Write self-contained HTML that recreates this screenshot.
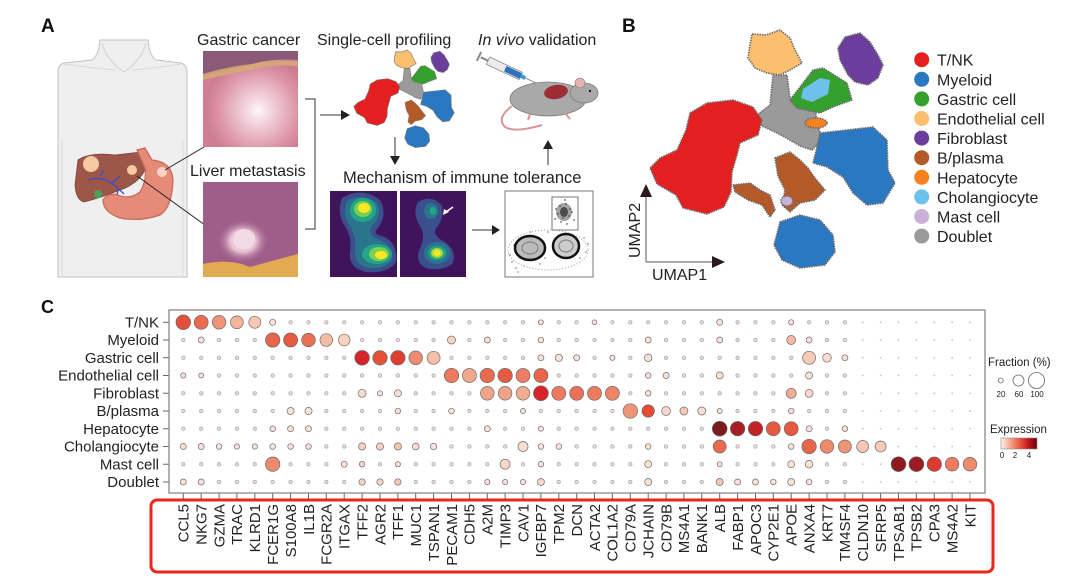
<!DOCTYPE html>
<html><head><meta charset="utf-8"><style>
html,body{margin:0;padding:0;background:#fff;}
svg{display:block;font-family:"Liberation Sans",Arial,sans-serif;}
</style></head><body>
<svg width="1080" height="580" viewBox="0 0 1080 580" xmlns="http://www.w3.org/2000/svg">
<defs>
<radialGradient id="gc" cx="0.58" cy="0.62" r="0.55"><stop offset="0" stop-color="#fdf6f8"/><stop offset="0.3" stop-color="#f1cdd9"/><stop offset="0.75" stop-color="#dc95a6"/><stop offset="1" stop-color="#cf7e92"/></radialGradient>
<radialGradient id="lm" cx="0.5" cy="0.5" r="0.5"><stop offset="0" stop-color="#f8e6ee"/><stop offset="0.5" stop-color="#e9bfd2"/><stop offset="1" stop-color="#a0608c" stop-opacity="0"/></radialGradient>
<linearGradient id="expr" x1="0" x2="1" y1="0" y2="0"><stop offset="0" stop-color="#fff5f0"/><stop offset="0.45" stop-color="#ef6a4c"/><stop offset="0.75" stop-color="#cb181d"/><stop offset="1" stop-color="#67000d"/></linearGradient>
<pattern id="pl" patternUnits="userSpaceOnUse" x="174.36" y="313.43" width="17.88" height="17.74"><circle cx="8.94" cy="8.87" r="1.7" fill="#efdcd5" stroke="#8a8a8a" stroke-width="0.5"/></pattern>
<pattern id="pr" patternUnits="userSpaceOnUse" x="174.36" y="313.43" width="17.88" height="17.74"><circle cx="8.94" cy="8.87" r="0.9" fill="#bdbdbd"/></pattern>
</defs>

<!-- ===== Panel A ===== -->
<text x="41" y="32" font-size="19" font-weight="bold" fill="#111">A</text>
<!-- body -->
<path d="M100,40 L148,40 Q149,55 156,60 L181,63 Q187,65 187,72 L187,277 L58,277 L58,72 Q58,65 64,63 L92,60 Q99,55 100,40 Z" fill="#efefef" stroke="#c2c2c2" stroke-width="1"/>
<path d="M102,44 Q108,62 124,72 Q140,62 146,44" fill="none" stroke="#cfcfcf" stroke-width="1"/>
<path d="M64,64 Q92,68 116,70 M132,70 Q156,68 181,64" fill="none" stroke="#d2d2d2" stroke-width="0.8"/>
<path d="M62,140 L62,277 M183,140 L183,277" fill="none" stroke="#d6d6d6" stroke-width="0.8"/>
<!-- liver -->
<path d="M78,160 Q90,152 115,155 L141,152 Q148,158 145,170 Q138,184 120,190 Q100,198 84,202 Q76,200 75,185 Z" fill="#9c5749" stroke="#7e4238" stroke-width="0.8"/>
<circle cx="98" cy="194" r="4" fill="#4aa15c"/>
<circle cx="91" cy="164" r="8" fill="#f6c9a3"/>
<circle cx="132" cy="170" r="5" fill="#f6c9a3"/>
<path d="M88,180 Q100,176 110,182 Q118,188 124,194 M100,176 L104,170 M112,183 L120,176 M118,190 L116,200" fill="none" stroke="#3a4ccc" stroke-width="1.3"/>
<path d="M115,203 L115,215" stroke="#3a4ccc" stroke-width="2"/>
<!-- stomach -->
<path d="M137,150 L145,148 L152,160 Q172,162 173,180 Q172,208 160,215 Q140,222 120,218 Q103,212 103,200 Q108,192 118,195 Q130,200 140,192 Q147,180 145,168 Z" fill="#e58b77" stroke="#c4675b" stroke-width="1.2"/>
<circle cx="162" cy="172" r="5" fill="#f8d3c8"/>
<!-- arrows -->
<line x1="165" y1="170" x2="226" y2="134" stroke="#222" stroke-width="1"/>
<polygon points="232,130 221,131 226,139" fill="#222"/>
<line x1="137" y1="176" x2="216" y2="233" stroke="#222" stroke-width="1"/>
<polygon points="223,238 211,235 217,228" fill="#222"/>
<!-- photos -->
<text x="197" y="45" font-size="16" fill="#222">Gastric cancer</text>
<rect x="203" y="51" width="95" height="96" fill="url(#gc)"/>
<path d="M203,51 L298,51 L298,60 Q270,58 250,65 Q225,70 203,76 Z" fill="#8a5a78"/>
<path d="M203,74 Q230,66 252,64 Q275,58 298,62 L298,66 Q270,64 250,70 Q228,74 203,80 Z" fill="#d6ab74" opacity="0.85"/>
<text x="190" y="176" font-size="16" fill="#222">Liver metastasis</text>
<rect x="203" y="182" width="95" height="95" fill="#9e5e89"/>
<ellipse cx="243" cy="241" rx="26" ry="22" fill="url(#lm)"/>
<ellipse cx="244" cy="239" rx="11" ry="10" fill="#f3dce6" opacity="0.9"/>
<path d="M203,264 Q230,258 250,267 Q275,260 298,254 L298,277 L203,277 Z" fill="#e2ab52"/>
<!-- bracket -->
<path d="M305,99 L315,99 L315,229 L305,229" fill="none" stroke="#333" stroke-width="1"/>
<line x1="320" y1="115" x2="342" y2="115" stroke="#333" stroke-width="1"/>
<polygon points="350,115 341,110 341,120" fill="#222"/>
<text x="317" y="45" font-size="16" fill="#222">Single-cell profiling</text>
<!-- mini umap -->
<g transform="translate(353,50) scale(0.41) translate(-648,-30)" stroke="#777" stroke-width="1.5">
<path d="M773,75 L787,75 L790,98 L805,100 L815,110 L818,125 L822,140 L812,150 L800,146 L790,140 L775,132 L762,126 L757,115 L770,105 Z" fill="#9a9a9a"/>
<path d="M752,34 L766,35 L780,30 L790,38 L795,50 L802,63 L790,70 L780,75 L767,73 L755,68 L748,58 L750,45 Z" fill="#fcbf70"/>
<path d="M845,37 L860,33 L870,42 L878,55 L883,65 L878,78 L868,85 L855,82 L848,75 L840,60 L838,48 Z" fill="#6b3d9c"/>
<path d="M800,87 L813,70 L823,68 L847,83 L852,100 L833,107 L820,113 L797,108 L790,100 Z" fill="#35a02e"/>
<path d="M690,113 L707,103 L733,100 L753,107 L762,120 L758,135 L740,143 L737,155 L732,172 L731,192 L724,207 L707,214 L683,208 L676,195 L657,184 L650,168 L660,158 L677,150 L686,130 Z" fill="#e3201f"/>
<path d="M820,133 L847,130 L873,127 L887,140 L888,170 L895,183 L883,203 L867,205 L853,193 L843,177 L827,167 L813,163 L817,147 Z" fill="#2a78c2"/>
<path d="M780,222 L800,215 L820,220 L833,235 L835,252 L825,265 L800,268 L782,260 L774,245 Z" fill="#2a78c2"/>
<path d="M775,158 L790,152 L800,160 L808,168 L815,178 L825,190 L815,200 L800,203 L790,212 L782,205 L785,190 L778,176 Z" fill="#b35a28"/>
</g>
<line x1="395" y1="137" x2="395" y2="157" stroke="#333" stroke-width="1"/>
<polygon points="395,165 390,156 400,156" fill="#222"/>
<text x="478" y="45" font-size="16" fill="#222"><tspan font-style="italic">In vivo</tspan> validation</text>
<!-- syringe -->
<g transform="rotate(25 508 70)">
<rect x="486" y="66" width="36" height="8" fill="#ececec" stroke="#888" stroke-width="0.8"/>
<rect x="505" y="67" width="17" height="6" fill="#2f6fc0"/>
<line x1="478" y1="70" x2="486" y2="70" stroke="#888" stroke-width="2"/>
<line x1="476" y1="65" x2="476" y2="75" stroke="#888" stroke-width="2"/>
<rect x="522" y="68" width="5" height="4" fill="#3a9ec8"/>
<line x1="527" y1="70" x2="540" y2="70" stroke="#777" stroke-width="0.8"/>
</g>
<!-- mouse -->
<path d="M512,106 Q496,118 505,127 Q515,133 542,125" fill="none" stroke="#d89595" stroke-width="2"/>
<ellipse cx="548" cy="99" rx="38" ry="17" fill="#a9a9a9" stroke="#7a7a7a" stroke-width="0.8"/>
<ellipse cx="584" cy="93" rx="14" ry="10" fill="#a9a9a9" stroke="#7a7a7a" stroke-width="0.8"/>
<circle cx="580" cy="83" r="5" fill="#e6b2b2" stroke="#7a7a7a" stroke-width="0.6"/>
<circle cx="590" cy="91" r="1.2" fill="#222"/>
<ellipse cx="556" cy="92" rx="12" ry="7" fill="#9c2c36" transform="rotate(-10 556 92)"/>
<path d="M530,114 L528,120 M565,113 L570,119" stroke="#d89595" stroke-width="2"/>
<line x1="548" y1="165" x2="548" y2="148" stroke="#333" stroke-width="1"/>
<polygon points="548,140 543,149 553,149" fill="#222"/>
<text x="343" y="183" font-size="16.5" fill="#222">Mechanism of immune tolerance</text>
<!-- density plots -->
<rect x="330" y="191" width="67" height="86" fill="#40145c"/>
<path d="M342,198 Q362,186 380,200 Q388,215 378,228 Q372,234 382,236 Q398,242 396,262 Q388,274 366,272 Q348,268 350,252 Q352,238 346,228 Q336,214 342,198 Z" fill="#3a4f8c"/>
<path d="M347,201 Q362,192 377,203 Q383,215 372,226 Q366,236 380,240 Q394,246 392,260 Q384,270 368,268 Q354,264 355,252 Q357,238 350,226 Q342,214 347,201 Z" fill="#2b748e"/>
<ellipse cx="363" cy="210" rx="13" ry="12" fill="#22a686"/>
<ellipse cx="377" cy="254" rx="15" ry="10" fill="#22a686"/>
<ellipse cx="363" cy="209" rx="9" ry="8" fill="#7ad151"/>
<ellipse cx="379" cy="254" rx="10" ry="7" fill="#7ad151"/>
<ellipse cx="364" cy="208" rx="6" ry="5" fill="#fde725"/>
<ellipse cx="381" cy="255" rx="6" ry="4" fill="#fde725"/>
<rect x="400" y="191" width="66" height="86" fill="#40145c"/>
<path d="M418,202 Q432,194 442,206 Q444,220 436,228 Q432,236 445,242 Q458,252 452,264 Q440,272 426,268 Q414,262 420,248 Q426,236 420,226 Q412,214 418,202 Z" fill="#3a4f8c"/>
<ellipse cx="431" cy="211" rx="7" ry="8" fill="#2b748e"/>
<ellipse cx="433" cy="211" rx="3.5" ry="4" fill="#22a686"/>
<ellipse cx="437" cy="253" rx="13" ry="11" fill="#2b748e"/>
<ellipse cx="437" cy="253" rx="9" ry="7" fill="#22a686"/>
<ellipse cx="437" cy="253" rx="6" ry="5" fill="#a5db36"/>
<ellipse cx="437" cy="253" rx="3.5" ry="3" fill="#fde725"/>
<line x1="453" y1="207" x2="446" y2="212" stroke="#fff" stroke-width="1.5"/>
<polygon points="443,215 444,209 449,212" fill="#fff"/>
<line x1="472" y1="230" x2="493" y2="230" stroke="#333" stroke-width="1"/>
<polygon points="500,230 492,225 492,235" fill="#222"/>
<!-- flow plot -->
<rect x="505" y="191" width="88" height="86" fill="#fff" stroke="#777" stroke-width="1"/>
<rect x="552" y="197" width="26" height="33" fill="none" stroke="#555" stroke-width="0.8"/>
<g fill="#222">
<circle cx="560" cy="206" r="0.7"/><circle cx="566" cy="204" r="0.7"/><circle cx="570" cy="209" r="0.7"/><circle cx="558" cy="214" r="0.7"/><circle cx="563" cy="218" r="0.7"/><circle cx="569" cy="216" r="0.7"/><circle cx="572" cy="212" r="0.7"/><circle cx="556" cy="209" r="0.7"/><circle cx="561" cy="222" r="0.7"/><circle cx="567" cy="224" r="0.7"/><circle cx="574" cy="220" r="0.7"/><circle cx="555" cy="219" r="0.7"/><circle cx="565" cy="200" r="0.7"/>
<circle cx="512" cy="262" r="0.6"/><circle cx="516" cy="268" r="0.6"/><circle cx="520" cy="258" r="0.6"/><circle cx="510" cy="255" r="0.6"/><circle cx="518" cy="272" r="0.6"/><circle cx="524" cy="266" r="0.6"/><circle cx="540" cy="264" r="0.6"/><circle cx="548" cy="232" r="0.6"/><circle cx="584" cy="238" r="0.6"/><circle cx="586" cy="252" r="0.6"/><circle cx="580" cy="258" r="0.6"/><circle cx="545" cy="258" r="0.6"/><circle cx="530" cy="232" r="0.6"/><circle cx="514" cy="245" r="0.6"/><circle cx="588" cy="244" r="0.6"/>
</g>
<ellipse cx="564" cy="212" rx="8" ry="9" fill="#333" opacity="0.45"/>
<ellipse cx="564" cy="212" rx="4" ry="5" fill="#111" opacity="0.6"/>
<ellipse cx="530" cy="248" rx="15" ry="12" fill="#bbb" stroke="#111" stroke-width="2.5"/>
<ellipse cx="566" cy="246" rx="13" ry="12" fill="#ccc" stroke="#111" stroke-width="2.5"/>
<ellipse cx="530" cy="248" rx="8" ry="6" fill="none" stroke="#777" stroke-width="1"/>
<ellipse cx="566" cy="246" rx="7" ry="6" fill="none" stroke="#777" stroke-width="1"/>
<ellipse cx="548" cy="250" rx="40" ry="20" fill="none" stroke="#999" stroke-width="1" stroke-dasharray="1 2"/>

<!-- ===== Panel B ===== -->
<text x="622" y="32" font-size="19" font-weight="bold" fill="#111">B</text>
<g stroke="#6a6a6a" stroke-width="1.6" stroke-linejoin="round" stroke-dasharray="1.5 1">
<path d="M773,75 L787,75 L790,98 L805,100 L815,110 L818,125 L822,140 L812,150 L800,146 L790,140 L775,132 L762,126 L757,115 L770,105 Z" fill="#9a9a9a"/>
<path d="M752,34 L766,35 L780,30 L790,38 L795,50 L802,63 L790,70 L780,75 L767,73 L755,68 L748,58 L750,45 Z" fill="#fcbf70"/>
<path d="M845,37 L860,33 L870,42 L878,55 L883,65 L878,78 L868,85 L855,82 L848,75 L840,60 L838,48 Z" fill="#6b3d9c"/>
<path d="M800,87 L813,70 L823,68 L847,83 L852,100 L833,107 L820,113 L797,108 L790,100 Z" fill="#35a02e"/>
<path d="M803,89 L820,78 L830,80 L828,94 L812,102 L801,98 Z" fill="#6ec1ea" stroke="none"/>
<ellipse cx="816" cy="123" rx="11" ry="5" fill="#f5821f"/>
<path d="M690,113 L707,103 L733,100 L753,107 L762,120 L758,135 L740,143 L737,155 L732,172 L731,192 L724,207 L707,214 L683,208 L676,195 L657,184 L650,168 L660,158 L677,150 L686,130 Z" fill="#e3201f"/>
<path d="M820,133 L847,130 L873,127 L887,140 L888,170 L895,183 L883,203 L867,205 L853,193 L843,177 L827,167 L813,163 L817,147 Z" fill="#2a78c2"/>
<path d="M780,222 L800,215 L820,220 L833,235 L835,252 L825,265 L800,268 L782,260 L774,245 Z" fill="#2a78c2"/>
<path d="M775,158 L790,152 L800,160 L808,168 L815,178 L825,190 L815,200 L800,203 L790,212 L782,205 L785,190 L778,176 Z" fill="#b35a28"/>
<path d="M733,185 L750,183 L760,190 L770,195 L775,210 L770,217 L762,205 L748,200 L735,192 Z" fill="#b35a28"/>
<ellipse cx="787" cy="201" rx="6" ry="5" fill="#cab2d6"/>
</g>
<!-- axes -->
<line x1="646" y1="262" x2="646" y2="195" stroke="#555" stroke-width="1"/>
<polygon points="646,184 640,197 652,197" fill="#2a1a1a"/>
<line x1="646" y1="262" x2="714" y2="262" stroke="#555" stroke-width="1"/>
<polygon points="725,262 712,256 712,268" fill="#2a1a1a"/>
<text x="652" y="280" font-size="16" fill="#222">UMAP1</text>
<text transform="translate(640,258) rotate(-90)" font-size="16" fill="#222">UMAP2</text>
<!-- legend B -->
<g font-size="16" fill="#222">
<circle cx="921.7" cy="59.7" r="7.5" fill="#e3201f"/><text x="937" y="65.7">T/NK</text>
<circle cx="921.7" cy="79.3" r="7.5" fill="#2a78c2"/><text x="937" y="85.3">Myeloid</text>
<circle cx="921.7" cy="98.9" r="7.5" fill="#35a02e"/><text x="937" y="104.9">Gastric cell</text>
<circle cx="921.7" cy="118.5" r="7.5" fill="#fcbf70"/><text x="937" y="124.5">Endothelial cell</text>
<circle cx="921.7" cy="138.1" r="7.5" fill="#6b3d9c"/><text x="937" y="144.1">Fibroblast</text>
<circle cx="921.7" cy="157.7" r="7.5" fill="#b35a28"/><text x="937" y="163.7">B/plasma</text>
<circle cx="921.7" cy="177.3" r="7.5" fill="#f5821f"/><text x="937" y="183.3">Hepatocyte</text>
<circle cx="921.7" cy="196.9" r="7.5" fill="#6ec1ea"/><text x="937" y="202.9">Cholangiocyte</text>
<circle cx="921.7" cy="216.5" r="7.5" fill="#cab2d6"/><text x="937" y="222.5">Mast cell</text>
<circle cx="921.7" cy="236.1" r="7.5" fill="#9a9a9a"/><text x="937" y="242.1">Doublet</text>
</g>

<!-- ===== Panel C ===== -->
<text x="41" y="313" font-size="18" font-weight="bold" fill="#111">C</text>
<g font-size="15" fill="#222" text-anchor="end">
<text x="159" y="327.5">T/NK</text>
<text x="159" y="345.2">Myeloid</text>
<text x="159" y="363">Gastric cell</text>
<text x="159" y="380.7">Endothelial cell</text>
<text x="159" y="398.5">Fibroblast</text>
<text x="159" y="416.2">B/plasma</text>
<text x="159" y="433.9">Hepatocyte</text>
<text x="159" y="451.7">Cholangiocyte</text>
<text x="159" y="469.4">Mast cell</text>
<text x="159" y="487.2">Doublet</text>
</g>
<g stroke="#666" stroke-width="1">
<path d="M163,322.3h6M163,340h6M163,357.8h6M163,375.5h6M163,393.3h6M163,411h6M163,428.7h6M163,446.5h6M163,464.2h6M163,482h6"/>
<path d="M183.3,493v6M201.2,493v6M219.1,493v6M236.9,493v6M254.8,493v6M272.7,493v6M290.6,493v6M308.5,493v6M326.3,493v6M344.2,493v6M362.1,493v6M380,493v6M397.9,493v6M415.7,493v6M433.6,493v6M451.5,493v6M469.4,493v6M487.3,493v6M505.1,493v6M523,493v6M540.9,493v6M558.8,493v6M576.7,493v6M594.5,493v6M612.4,493v6M630.3,493v6M648.2,493v6M666.1,493v6M683.9,493v6M701.8,493v6M719.7,493v6M737.6,493v6M755.5,493v6M773.3,493v6M791.2,493v6M809.1,493v6M827,493v6M844.9,493v6M862.7,493v6M880.6,493v6M898.5,493v6M916.4,493v6M934.3,493v6M952.1,493v6M970,493v6"/>
</g>
<rect x="169" y="310" width="816" height="183" fill="#fff" stroke="#888" stroke-width="1.3"/>
<rect x="174.36" y="313.43" width="679.44" height="177.4" fill="url(#pl)"/>
<rect x="853.8" y="313.43" width="125.16" height="177.4" fill="url(#pr)"/>
<g stroke="#6b6b6b" stroke-width="0.7" fill="#fae2d8">
<!-- row0 T/NK -->
<circle cx="183.3" cy="322.3" r="7.3" fill="#e4503a"/>
<circle cx="201.2" cy="322.3" r="7" fill="#ea6b50"/>
<circle cx="219.1" cy="322.3" r="6.8" fill="#f09478"/>
<circle cx="236.9" cy="322.3" r="6.4" fill="#f5b59d"/>
<circle cx="254.8" cy="322.3" r="6" fill="#f8c7b3"/>
<circle cx="272.7" cy="322.3" r="3" fill="#fbe6dc"/>
<circle cx="540.9" cy="322.3" r="2.5"/>
<circle cx="594.5" cy="322.3" r="2.4"/>
<circle cx="719.7" cy="322.3" r="3"/>
<circle cx="791.2" cy="322.3" r="2.6"/>
<!-- row1 Myeloid -->
<circle cx="201.2" cy="340" r="3"/>
<circle cx="272.7" cy="340" r="7.2" fill="#e8644a"/>
<circle cx="290.6" cy="340" r="7" fill="#e65a42"/>
<circle cx="308.5" cy="340" r="6.8" fill="#ea6e52"/>
<circle cx="326.3" cy="340" r="6.3" fill="#f6bba4"/>
<circle cx="344.2" cy="340" r="5.8" fill="#fad2c2"/>
<circle cx="451.5" cy="340" r="4" fill="#f8d2c2"/>
<circle cx="487.3" cy="340" r="3"/>
<circle cx="540.9" cy="340" r="2.8"/>
<circle cx="648.2" cy="340" r="3"/>
<circle cx="719.7" cy="340" r="3"/>
<circle cx="791.2" cy="340" r="4.5" fill="#f6b8a0"/>
<circle cx="809.1" cy="340" r="3"/>
<!-- row2 Gastric -->
<circle cx="362.1" cy="357.8" r="7.3" fill="#d42429"/>
<circle cx="380" cy="357.8" r="7.2" fill="#e4503a"/>
<circle cx="397.9" cy="357.8" r="7.2" fill="#e03c32"/>
<circle cx="415.7" cy="357.8" r="6.8" fill="#ee8c70"/>
<circle cx="433.6" cy="357.8" r="6.5" fill="#f7bea8"/>
<circle cx="540.9" cy="357.8" r="3"/>
<circle cx="558.8" cy="357.8" r="3.6"/>
<circle cx="576.7" cy="357.8" r="3"/>
<circle cx="612.4" cy="357.8" r="2.6"/>
<circle cx="648.2" cy="357.8" r="3.8"/>
<circle cx="809.1" cy="357.8" r="6.5" fill="#f8cbb8"/>
<circle cx="827" cy="357.8" r="4.3" fill="#fbdcd0"/>
<circle cx="844.9" cy="357.8" r="3"/>
<!-- row3 Endothelial -->
<circle cx="183.3" cy="375.5" r="2.6"/>
<circle cx="201.2" cy="375.5" r="2.5"/>
<circle cx="451.5" cy="375.5" r="7.2" fill="#ec7a5e"/>
<circle cx="469.4" cy="375.5" r="7" fill="#f3a88e"/>
<circle cx="487.3" cy="375.5" r="7.2" fill="#ea6a50"/>
<circle cx="505.1" cy="375.5" r="7.2" fill="#e45a42"/>
<circle cx="523" cy="375.5" r="7" fill="#ec7c62"/>
<circle cx="540.9" cy="375.5" r="7" fill="#e8644a"/>
<circle cx="648.2" cy="375.5" r="2.8"/>
<circle cx="666.1" cy="375.5" r="3"/>
<circle cx="719.7" cy="375.5" r="3.5"/>
<circle cx="809.1" cy="375.5" r="3.5"/>
<!-- row4 Fibroblast -->
<circle cx="362.1" cy="393.3" r="4" fill="#fadcd0"/>
<circle cx="380" cy="393.3" r="2.6"/>
<circle cx="397.9" cy="393.3" r="3.5"/>
<circle cx="487.3" cy="393.3" r="6.8" fill="#f2a48a"/>
<circle cx="505.1" cy="393.3" r="6.8" fill="#f2a28a"/>
<circle cx="523" cy="393.3" r="6.8" fill="#f2ac92"/>
<circle cx="540.9" cy="393.3" r="7.4" fill="#d8232a"/>
<circle cx="558.8" cy="393.3" r="7" fill="#ec7a5e"/>
<circle cx="576.7" cy="393.3" r="7" fill="#ea7058"/>
<circle cx="594.5" cy="393.3" r="7" fill="#ec7a5e"/>
<circle cx="612.4" cy="393.3" r="7" fill="#ee8468"/>
<circle cx="648.2" cy="393.3" r="2.8"/>
<circle cx="791.2" cy="393.3" r="5" fill="#f4ae96"/>
<circle cx="809.1" cy="393.3" r="4" fill="#fbd8cc"/>
<!-- row5 B/plasma -->
<circle cx="290.6" cy="411" r="3.5"/>
<circle cx="308.5" cy="411" r="3.6"/>
<circle cx="397.9" cy="411" r="2.8"/>
<circle cx="451.5" cy="411" r="2.8"/>
<circle cx="523" cy="411" r="2.6"/>
<circle cx="630.3" cy="411" r="7.2" fill="#f09478"/>
<circle cx="648.2" cy="411" r="6.2" fill="#e44a36"/>
<circle cx="666.1" cy="411" r="4.4" fill="#fbd8cc"/>
<circle cx="683.9" cy="411" r="4" fill="#f8c8b4"/>
<circle cx="701.8" cy="411" r="4" fill="#fbdcd0"/>
<circle cx="719.7" cy="411" r="2.5"/>
<circle cx="791.2" cy="411" r="2.8"/>
<!-- row6 Hepatocyte -->
<circle cx="272.7" cy="428.7" r="2.8"/>
<circle cx="290.6" cy="428.7" r="3"/>
<circle cx="308.5" cy="428.7" r="3"/>
<circle cx="487.3" cy="428.7" r="3"/>
<circle cx="540.9" cy="428.7" r="2.5"/>
<circle cx="719.7" cy="428.7" r="7.4" fill="#7a1c1e"/>
<circle cx="737.6" cy="428.7" r="7.2" fill="#a81e26"/>
<circle cx="755.5" cy="428.7" r="7.2" fill="#c42028"/>
<circle cx="773.3" cy="428.7" r="7" fill="#e45a40"/>
<circle cx="791.2" cy="428.7" r="7" fill="#e65840"/>
<circle cx="809.1" cy="428.7" r="3"/>
<circle cx="844.9" cy="428.7" r="2.8"/>
<!-- row7 Cholangiocyte -->
<circle cx="183.3" cy="446.5" r="3"/>
<circle cx="201.2" cy="446.5" r="3"/>
<circle cx="219.1" cy="446.5" r="2.8"/>
<circle cx="236.9" cy="446.5" r="2.6"/>
<circle cx="254.8" cy="446.5" r="2.6"/>
<circle cx="272.7" cy="446.5" r="2.8"/>
<circle cx="290.6" cy="446.5" r="2.8"/>
<circle cx="308.5" cy="446.5" r="2.8"/>
<circle cx="362.1" cy="446.5" r="3.6" fill="#f8cfc0"/>
<circle cx="380" cy="446.5" r="3.6" fill="#f8cfc0"/>
<circle cx="397.9" cy="446.5" r="3.6" fill="#f6c4b0"/>
<circle cx="415.7" cy="446.5" r="3.4" fill="#fbdcd0"/>
<circle cx="433.6" cy="446.5" r="3.2"/>
<circle cx="523" cy="446.5" r="5" fill="#fbdcd0"/>
<circle cx="540.9" cy="446.5" r="2.8"/>
<circle cx="558.8" cy="446.5" r="2.8"/>
<circle cx="648.2" cy="446.5" r="2.8"/>
<circle cx="719.7" cy="446.5" r="6.5" fill="#ea6a50"/>
<circle cx="791.2" cy="446.5" r="2.8"/>
<circle cx="809.1" cy="446.5" r="7.2" fill="#e8644a"/>
<circle cx="827" cy="446.5" r="6.8" fill="#ee8a6e"/>
<circle cx="844.9" cy="446.5" r="6.5" fill="#f09478"/>
<circle cx="862.7" cy="446.5" r="6" fill="#f8c6b2"/>
<circle cx="880.6" cy="446.5" r="5.5" fill="#f8ccb8"/>
<!-- row8 Mast -->
<circle cx="272.7" cy="464.2" r="7.2" fill="#ee8a6e"/>
<circle cx="344.2" cy="464.2" r="3"/>
<circle cx="362.1" cy="464.2" r="2.8" fill="#f8d8cc"/>
<circle cx="397.9" cy="464.2" r="2.6"/>
<circle cx="505.1" cy="464.2" r="5" fill="#fbd6c8"/>
<circle cx="540.9" cy="464.2" r="2.8"/>
<circle cx="648.2" cy="464.2" r="3.5"/>
<circle cx="719.7" cy="464.2" r="2.5"/>
<circle cx="791.2" cy="464.2" r="3.5"/>
<circle cx="809.1" cy="464.2" r="3.8"/>
<circle cx="898.5" cy="464.2" r="7.4" fill="#8c1a1e"/>
<circle cx="916.4" cy="464.2" r="7.4" fill="#9c1c22"/>
<circle cx="934.3" cy="464.2" r="7.2" fill="#dc3a32"/>
<circle cx="952.1" cy="464.2" r="6.8" fill="#ec7c60"/>
<circle cx="970" cy="464.2" r="6.8" fill="#ee8a6e"/>
<!-- row9 Doublet -->
<circle cx="183.3" cy="482" r="3"/>
<circle cx="201.2" cy="482" r="3"/>
<circle cx="362.1" cy="482" r="3.2" fill="#f8d4c4"/>
<circle cx="380" cy="482" r="3.2" fill="#f8d4c4"/>
<circle cx="397.9" cy="482" r="3.2" fill="#f6c8b6"/>
<circle cx="487.3" cy="482" r="2.6"/>
<circle cx="505.1" cy="482" r="2.6"/>
<circle cx="523" cy="482" r="2.6"/>
<circle cx="540.9" cy="482" r="3.5" fill="#f8d8cc"/>
<circle cx="648.2" cy="482" r="3.5"/>
<circle cx="719.7" cy="482" r="3.5" fill="#f6c8b6"/>
<circle cx="737.6" cy="482" r="3"/>
<circle cx="755.5" cy="482" r="3"/>
<circle cx="773.3" cy="482" r="2.8"/>
<circle cx="791.2" cy="482" r="3.5"/>
<circle cx="809.1" cy="482" r="2.8"/>
</g>
<!-- x labels -->
<g font-size="15" fill="#222" text-anchor="end">
<text transform="translate(188.6,504) rotate(-90)">CCL5</text>
<text transform="translate(206.5,504) rotate(-90)">NKG7</text>
<text transform="translate(224.4,504) rotate(-90)">GZMA</text>
<text transform="translate(242.2,504) rotate(-90)">TRAC</text>
<text transform="translate(260.1,504) rotate(-90)">KLRD1</text>
<text transform="translate(278,504) rotate(-90)">FCER1G</text>
<text transform="translate(295.9,504) rotate(-90)">S100A8</text>
<text transform="translate(313.8,504) rotate(-90)">IL1B</text>
<text transform="translate(331.6,504) rotate(-90)">FCGR2A</text>
<text transform="translate(349.5,504) rotate(-90)">ITGAX</text>
<text transform="translate(367.4,504) rotate(-90)">TFF2</text>
<text transform="translate(385.3,504) rotate(-90)">AGR2</text>
<text transform="translate(403.2,504) rotate(-90)">TFF1</text>
<text transform="translate(421,504) rotate(-90)">MUC1</text>
<text transform="translate(438.9,504) rotate(-90)">TSPAN1</text>
<text transform="translate(456.8,504) rotate(-90)">PECAM1</text>
<text transform="translate(474.7,504) rotate(-90)">CDH5</text>
<text transform="translate(492.6,504) rotate(-90)">A2M</text>
<text transform="translate(510.4,504) rotate(-90)">TIMP3</text>
<text transform="translate(528.3,504) rotate(-90)">CAV1</text>
<text transform="translate(546.2,504) rotate(-90)">IGFBP7</text>
<text transform="translate(564.1,504) rotate(-90)">TPM2</text>
<text transform="translate(582,504) rotate(-90)">DCN</text>
<text transform="translate(599.8,504) rotate(-90)">ACTA2</text>
<text transform="translate(617.7,504) rotate(-90)">COL1A2</text>
<text transform="translate(635.6,504) rotate(-90)">CD79A</text>
<text transform="translate(653.5,504) rotate(-90)">JCHAIN</text>
<text transform="translate(671.4,504) rotate(-90)">CD79B</text>
<text transform="translate(689.2,504) rotate(-90)">MS4A1</text>
<text transform="translate(707.1,504) rotate(-90)">BANK1</text>
<text transform="translate(725,504) rotate(-90)">ALB</text>
<text transform="translate(742.9,504) rotate(-90)">FABP1</text>
<text transform="translate(760.8,504) rotate(-90)">APOC3</text>
<text transform="translate(778.6,504) rotate(-90)">CYP2E1</text>
<text transform="translate(796.5,504) rotate(-90)">APOE</text>
<text transform="translate(814.4,504) rotate(-90)">ANXA4</text>
<text transform="translate(832.3,504) rotate(-90)">KRT7</text>
<text transform="translate(850.2,504) rotate(-90)">TM4SF4</text>
<text transform="translate(868,504) rotate(-90)">CLDN10</text>
<text transform="translate(885.9,504) rotate(-90)">SFRP5</text>
<text transform="translate(903.8,504) rotate(-90)">TPSAB1</text>
<text transform="translate(921.7,504) rotate(-90)">TPSB2</text>
<text transform="translate(939.6,504) rotate(-90)">CPA3</text>
<text transform="translate(957.4,504) rotate(-90)">MS4A2</text>
<text transform="translate(975.3,504) rotate(-90)">KIT</text>
</g>
<rect x="151" y="500" width="842" height="72" rx="6" ry="6" fill="none" stroke="#e8281c" stroke-width="3"/>
<!-- legends C -->
<text x="988" y="366" font-size="11.5" fill="#222">Fraction (%)</text>
<g fill="#fff" stroke="#666" stroke-width="0.8">
<circle cx="1000.7" cy="380.5" r="2.5"/>
<circle cx="1018.5" cy="380.5" r="5.5"/>
<circle cx="1036.5" cy="380.5" r="8"/>
</g>
<g font-size="8" fill="#222" text-anchor="middle">
<text x="1001" y="397">20</text><text x="1019" y="397">60</text><text x="1037" y="397">100</text>
</g>
<text x="990" y="433" font-size="11.5" fill="#222">Expression</text>
<rect x="1001" y="438" width="36" height="11" fill="url(#expr)" stroke="#888" stroke-width="0.6"/>
<g font-size="8" fill="#222" text-anchor="middle">
<text x="1002" y="458">0</text><text x="1015" y="458">2</text><text x="1029" y="458">4</text>
</g>
</svg>
</body></html>
